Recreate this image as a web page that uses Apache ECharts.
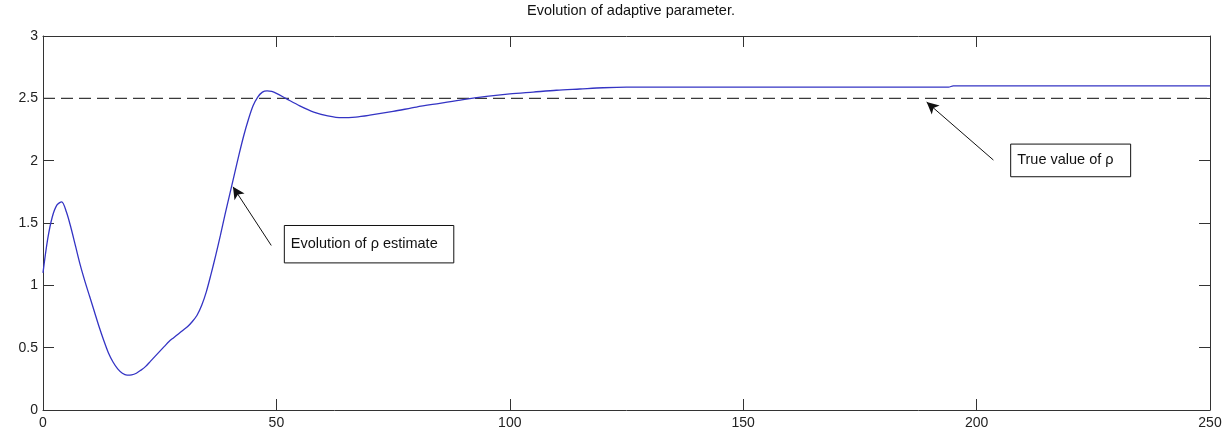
<!DOCTYPE html>
<html>
<head>
<meta charset="utf-8">
<script src="https://cdn.jsdelivr.net/npm/echarts@6/dist/echarts.min.js"></script>
<style>
html,body{margin:0;padding:0;background:#fff;}
#chart{width:1225px;height:432px;}
</style>
</head>
<body>
<div id="chart"></div>
<script>
// ---- data ----
var titleText = 'Evolution of adaptive parameter.';
var tValues = [0, 1, 2, 3, 4, 5, 6, 7, 8, 9, 10, 11, 12, 13, 14, 15, 16, 17, 18, 19,
  20, 21, 22, 23, 24, 25, 26, 27, 28, 29, 30, 31, 32, 33, 34, 35, 36, 37, 38, 39,
  40, 41, 42, 43, 44, 45, 46, 47, 48, 49, 50, 52, 55, 58, 61, 64, 67, 70, 75, 80,
  85, 90, 95, 100, 105, 110, 115, 120, 125, 194, 195, 250];
var rhoValues = [1.10, 1.37, 1.55, 1.645, 1.67, 1.59, 1.46, 1.31, 1.16, 1.03,
  0.91, 0.79, 0.67, 0.56, 0.46, 0.385, 0.33, 0.295, 0.28, 0.282,
  0.295, 0.32, 0.35, 0.39, 0.43, 0.47, 0.51, 0.55, 0.58, 0.61,
  0.64, 0.67, 0.71, 0.76, 0.84, 0.95, 1.09, 1.24, 1.40, 1.57,
  1.73, 1.89, 2.05, 2.20, 2.33, 2.44, 2.51, 2.55, 2.56, 2.555,
  2.54, 2.50, 2.44, 2.39, 2.36, 2.345, 2.35, 2.365, 2.395, 2.43,
  2.46, 2.49, 2.515, 2.535, 2.55, 2.565, 2.575, 2.585, 2.59, 2.59, 2.60, 2.60];
var trueValue = 2.5;
var xTicks = [0, 50, 100, 150, 200, 250];
var yTicks = [0, 0.5, 1, 1.5, 2, 2.5, 3];
// annotations (data coordinates)
var annEstimateText = 'Evolution of ρ estimate';
var annEstimateArrow = [[48.9, 1.32], [40.7, 1.79]];
var annEstimateBox = [[51.7, 1.48], [88.0, 1.18]];
var annTrueText = 'True value of ρ';
var annTrueArrow = [[203.6, 2.005], [189.3, 2.47]];
var annTrueBox = [[207.3, 2.133], [233.0, 1.871]];

var estData = tValues.map(function (t, i) { return [t, rhoValues[i]]; });
var trueData = [[xTicks[0], trueValue], [xTicks[xTicks.length - 1], trueValue]];

var chart = echarts.init(document.getElementById('chart'), null, {renderer: 'canvas'});
var font = 'Liberation Sans, Arial, sans-serif';
var axisCol = '#333';
function axisCommon(show) {
  return {
    axisLine: {show: true, onZero: false, lineStyle: {color: axisCol, width: 1}},
    axisTick: {show: true, inside: true, length: 11, lineStyle: {color: axisCol}},
    splitLine: {show: false},
    axisLabel: {show: show, color: '#222', fontFamily: font, fontSize: 14}
  };
}
var xb = Object.assign({type: 'value', position: 'bottom', min: 0, max: 250, interval: 50}, axisCommon(true));
xb.axisLabel.margin = 6;
var xt = Object.assign({type: 'value', position: 'top', min: 0, max: 250, interval: 50}, axisCommon(false));
var yl = Object.assign({type: 'value', position: 'left', min: 0, max: 3, interval: 0.5}, axisCommon(true));
yl.axisLabel.margin = 5;
var yr = Object.assign({type: 'value', position: 'right', min: 0, max: 3, interval: 0.5}, axisCommon(false));

function box(coords, text) {
  return [{coord: coords[0], label: {show: true, position: 'insideLeft', distance: 7, formatter: text,
            color: '#111', fontFamily: font, fontSize: 14.5}},
          {coord: coords[1]}];
}

chart.setOption({
  animation: false,
  backgroundColor: '#fff',
  title: {text: titleText, left: 626, textAlign: 'center', top: -2,
    textStyle: {fontFamily: font, fontSize: 14.5, fontWeight: 'normal', color: '#111'}},
  grid: {left: 43, right: 15, top: 36, bottom: 22, containLabel: false},
  xAxis: [xb, xt],
  yAxis: [yl, yr],
  series: [
    {
      type: 'line', name: 'true', xAxisIndex: 0, yAxisIndex: 0,
      data: trueData, showSymbol: false, symbol: 'none',
      lineStyle: {color: '#3a3a3a', width: 1.4, type: [12, 6]},
      z: 2,
      markLine: {
        silent: true, symbol: ['none', 'arrow'], symbolSize: [9, 12],
        label: {show: false},
        lineStyle: {color: '#111', width: 1, type: 'solid'},
        data: [
          [{coord: annEstimateArrow[0]}, {coord: annEstimateArrow[1]}],
          [{coord: annTrueArrow[0]}, {coord: annTrueArrow[1]}]
        ]
      },
      markArea: {
        silent: true,
        itemStyle: {color: '#fff', borderColor: '#111', borderWidth: 1},
        data: [box(annEstimateBox, annEstimateText), box(annTrueBox, annTrueText)]
      }
    },
    {
      type: 'line', name: 'estimate', xAxisIndex: 0, yAxisIndex: 0,
      data: estData, showSymbol: false, symbol: 'none', smooth: 0.3,
      lineStyle: {color: '#3434c4', width: 1.3},
      z: 3
    }
  ]
});
</script>
</body>
</html>
